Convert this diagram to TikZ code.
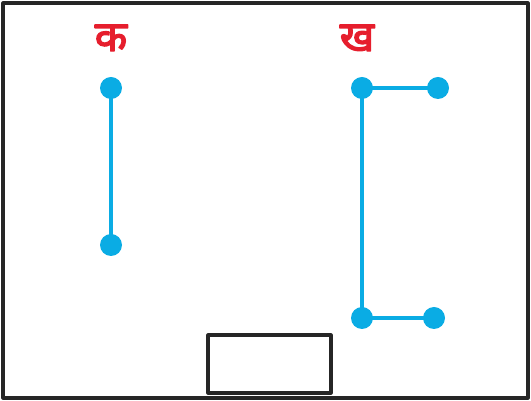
\documentclass[tikz,border=0pt]{standalone}
\usepackage{fontspec}
\newfontfamily\devfont[Script=Devanagari,FakeBold=3]{Noto Sans}
\definecolor{dotblue}{RGB}{10,172,228}
\definecolor{labred}{RGB}{230,30,45}
\tikzset{
  pin/.style={circle,fill=dotblue,inner sep=0pt,minimum size=22*0.02cm},
  rod/.style={dotblue,line width=2.8pt},
  lab/.style={labred,font=\devfont\fontsize{24}{24}\selectfont}
}
\begin{document}
\begin{tikzpicture}[x=0.02cm,y=-0.02cm,line cap=round,line join=round]
\useasboundingbox (0,0) rectangle (531,401);

% --- frame ---
\draw[line width=1.8pt,black!85] (3,3) rectangle (528,398);

% --- labels ---
\node[lab] (ka) at (111,38) {क};
\node[lab] (kha) at (357,38) {ख};

% --- left rod ---
\node[pin] (a1) at (111,88) {};
\node[pin] (a2) at (111,245) {};
\draw[rod] (a1.center) -- (a2.center);

% --- right bracket ---
\node[pin] (b1) at (362,88) {};
\node[pin] (b2) at (438,88) {};
\node[pin] (b3) at (362,318) {};
\node[pin] (b4) at (434,318) {};
\draw[rod] (b2.center) -- (b1.center) -- (b3.center) -- (b4.center);

% --- empty box ---
\draw[line width=1.8pt,black!85] (208,335) rectangle (331,393);
\end{tikzpicture}
\end{document}
